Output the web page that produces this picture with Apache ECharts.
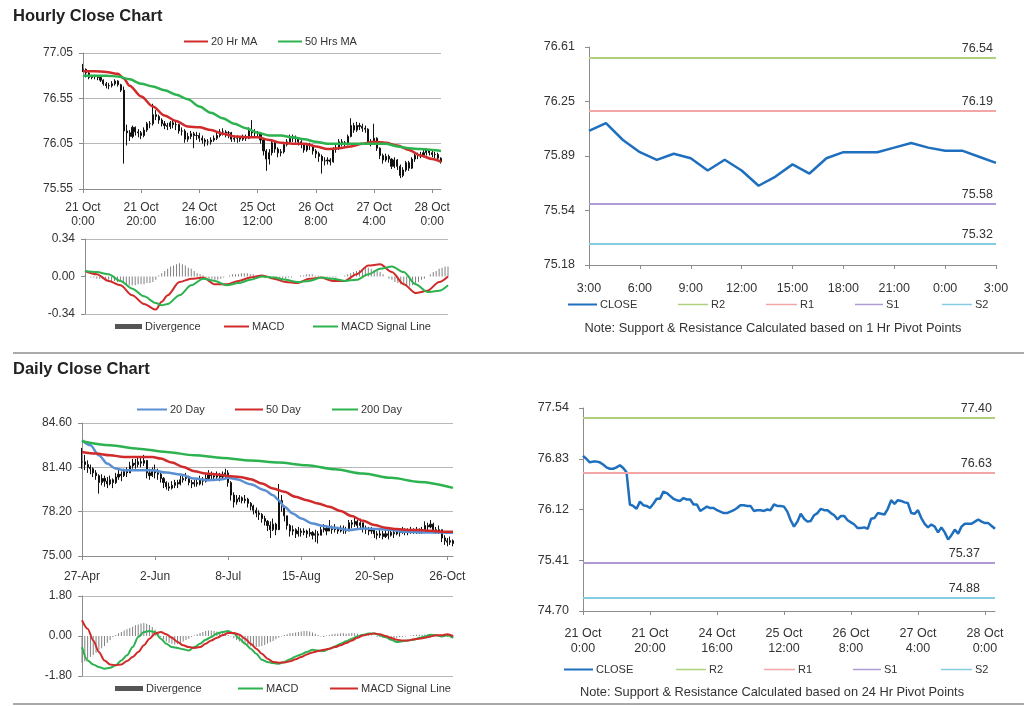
<!DOCTYPE html>
<html><head><meta charset="utf-8">
<script src="https://cdn.jsdelivr.net/npm/echarts@6/dist/echarts.min.js"></script>
<style>html,body{margin:0;padding:0;background:#fff}#c{width:1024px;height:706px}</style>
</head><body><div id="c"></div>
<script>
// ---------------- DATA ----------------
const hourTickLabels = ['21 Oct\n0:00','21 Oct\n20:00','24 Oct\n16:00','25 Oct\n12:00','26 Oct\n8:00','27 Oct\n4:00','28 Oct\n0:00'];
const hourlyClose = [76.87,76.83,76.78,76.79,76.79,76.78,76.75,76.71,76.69,76.69,
 76.71,76.74,76.70,76.64,76.19,76.17,76.13,76.23,76.18,76.17,
 76.14,76.20,76.27,76.27,76.37,76.35,76.31,76.27,76.25,76.24,
 76.28,76.26,76.26,76.19,76.19,76.10,76.13,76.16,76.14,76.14,
 76.11,76.09,76.07,76.07,76.09,76.11,76.14,76.18,76.18,76.17,
 76.17,76.10,76.11,76.11,76.10,76.12,76.11,76.19,76.17,76.17,
 76.16,76.09,75.97,75.88,75.95,76.06,75.99,75.95,75.96,76.04,
 76.07,76.13,76.11,76.11,76.07,76.04,75.98,76.03,76.03,75.97,
 75.94,75.91,75.86,75.86,75.87,75.85,75.99,76.00,76.07,76.06,
 76.05,76.13,76.25,76.20,76.25,76.24,76.22,76.21,76.07,76.06,
 76.11,76.00,75.92,75.87,75.91,75.88,75.80,75.87,75.80,75.70,
 75.76,75.84,75.78,75.88,75.92,75.92,75.92,75.95,75.98,75.95,
 75.93,75.93,75.89,75.85];
const hourlyHigh = [76.93,76.88,76.84,76.81,76.81,76.80,76.79,76.76,76.73,76.72,
 76.74,76.76,76.75,76.71,76.68,76.26,76.20,76.25,76.24,76.21,
 76.19,76.23,76.29,76.30,76.49,76.42,76.37,76.33,76.30,76.28,
 76.30,76.31,76.29,76.27,76.23,76.21,76.17,76.19,76.18,76.18,
 76.17,76.14,76.11,76.10,76.12,76.14,76.17,76.21,76.22,76.20,
 76.19,76.18,76.14,76.14,76.13,76.15,76.15,76.23,76.31,76.21,
 76.19,76.17,76.10,75.99,75.99,76.09,76.07,76.01,75.99,76.07,
 76.10,76.15,76.15,76.14,76.12,76.09,76.05,76.06,76.06,76.04,
 75.99,75.96,75.93,75.90,75.90,75.89,76.01,76.04,76.10,76.10,
 76.08,76.15,76.33,76.28,76.29,76.28,76.27,76.25,76.22,76.10,
 76.27,76.12,76.01,75.94,75.94,75.93,75.89,75.90,75.88,75.82,
 75.79,75.86,75.86,75.90,75.94,75.95,75.96,75.98,76.00,75.99,
 75.97,75.96,75.95,75.90];
const hourlyLow = [76.84,76.78,76.76,76.76,76.76,76.75,76.73,76.69,76.66,76.65,
 76.67,76.69,76.68,76.62,75.83,76.03,76.08,76.11,76.14,76.12,
 76.10,76.12,76.18,76.22,76.25,76.31,76.27,76.24,76.21,76.20,
 76.21,76.22,76.20,76.16,76.14,76.06,76.07,76.10,76.00,76.09,
 76.07,76.05,76.02,76.03,76.04,76.07,76.09,76.12,76.14,76.12,
 76.11,76.07,76.07,76.06,76.07,76.08,76.08,76.10,76.13,76.13,
 76.12,76.05,75.92,75.75,75.82,75.92,75.95,75.90,75.91,75.94,
 76.02,76.05,76.07,76.06,76.03,76.00,75.95,75.96,75.98,75.93,
 75.89,75.85,75.72,75.81,75.82,75.81,75.84,75.95,75.98,76.02,
 76.01,76.03,76.12,76.17,76.18,76.20,76.18,76.17,76.04,76.02,
 76.04,75.97,75.88,75.83,75.85,75.84,75.77,75.78,75.76,75.67,
 75.68,75.74,75.75,75.77,75.85,75.88,75.89,75.90,75.92,75.92,
 75.90,75.89,75.87,75.83];
// [hour index, value]
const hourlyMa20 = [[0,76.85],[4,76.85],[8,76.84],[12,76.82],[14,76.77],[16,76.69],[20,76.57],[24,76.46],[28,76.36],[32,76.30],[36,76.24],[40,76.23],[44,76.20],[48,76.16],[52,76.13],[56,76.12],[60,76.12],[64,76.09],[68,76.06],[72,76.05],[76,76.05],[80,76.02],[84,75.99],[88,76.00],[92,76.02],[96,76.05],[100,76.07],[104,76.06],[108,76.03],[112,75.98],[116,75.92],[120,75.88],[123,75.85]];
const hourlyMa50 = [[0,76.80],[4,76.80],[8,76.80],[12,76.79],[16,76.76],[20,76.71],[24,76.68],[28,76.64],[32,76.59],[36,76.54],[40,76.46],[44,76.39],[48,76.33],[52,76.27],[56,76.22],[60,76.17],[64,76.14],[68,76.14],[72,76.12],[76,76.10],[80,76.07],[84,76.05],[88,76.05],[92,76.05],[96,76.05],[100,76.05],[104,76.05],[108,76.02],[112,76.00],[116,75.99],[120,75.98],[123,75.97]];
const hourlyMacd = [[0,0.05],[4,0.02],[8,-0.04],[12,-0.08],[16,-0.17],[20,-0.25],[24,-0.30],[26,-0.23],[28,-0.17],[32,-0.05],[36,-0.02],[40,-0.01],[44,-0.07],[48,-0.07],[52,-0.04],[56,-0.01],[60,0.01],[64,-0.02],[68,-0.05],[72,-0.06],[76,-0.02],[80,-0.01],[84,-0.04],[88,-0.04],[92,0.02],[96,0.10],[100,0.11],[104,0.04],[108,-0.07],[112,-0.15],[116,-0.13],[120,-0.05],[123,0.00]];
const hourlySignal = [[0,0.05],[4,0.04],[8,0.02],[12,-0.04],[16,-0.11],[20,-0.18],[24,-0.24],[26,-0.26],[28,-0.25],[32,-0.17],[36,-0.08],[40,-0.02],[44,-0.04],[48,-0.08],[52,-0.06],[56,-0.03],[60,0.00],[64,-0.01],[68,-0.03],[72,-0.05],[76,-0.04],[80,-0.01],[84,-0.02],[88,-0.04],[92,-0.03],[96,0.02],[100,0.07],[104,0.09],[108,0.04],[112,-0.07],[116,-0.14],[120,-0.13],[123,-0.08]];
const hourlyDivergence = [0.01,0.00,-0.01,-0.01,-0.02,-0.02,-0.02,-0.03,-0.03,-0.04,
 -0.04,-0.05,-0.05,-0.05,-0.07,-0.08,-0.08,-0.08,-0.07,-0.07,
 -0.07,-0.06,-0.06,-0.05,-0.03,0.01,0.03,0.05,0.07,0.09,
 0.10,0.11,0.12,0.11,0.10,0.08,0.07,0.05,0.03,0.02,
 0.01,-0.01,-0.02,-0.02,-0.03,-0.03,-0.02,-0.01,0.00,0.01,
 0.02,0.02,0.02,0.03,0.03,0.03,0.02,0.02,0.01,0.01,
 0.01,-0.01,-0.01,-0.02,-0.02,-0.02,-0.02,-0.02,-0.02,-0.01,
 -0.01,0.00,0.00,0.01,0.01,0.02,0.02,0.02,0.01,0.01,
 0.00,-0.01,-0.01,-0.01,-0.01,-0.01,0.00,0.00,0.01,0.02,
 0.03,0.04,0.05,0.06,0.07,0.08,0.08,0.07,0.06,0.05,
 0.04,0.02,0.00,-0.02,-0.03,-0.05,-0.06,-0.07,-0.08,-0.09,
 -0.09,-0.08,-0.07,-0.05,-0.03,-0.02,0.00,0.02,0.04,0.05,
 0.07,0.08,0.09,0.09];

const pivotHourTickLabels = ['3:00','6:00','9:00','12:00','15:00','18:00','21:00','0:00','3:00'];
const pivotStartIndex = 99; // 27 Oct 3:00 in the hourly series
const levelNames = ['R2','R1','S1','S2'];
const levels1h = [76.54, 76.19, 75.58, 75.32];
const levels24h = [77.40, 76.63, 75.37, 74.88];
const yTicks1h = ['75.18','75.54','75.89','76.25','76.61'];
const yTicks24h = ['74.70','75.41','76.12','76.83','77.54'];

const dayTickLabels = ['27-Apr','2-Jun','8-Jul','15-Aug','20-Sep','26-Oct'];
const dailyClose = [81.8,81.6,81.4,81.3,81.0,80.8,80.3,80.6,80.4,80.2,
 80.5,80.3,80.7,80.9,80.8,81.1,81.0,81.5,81.7,81.6,
 81.8,81.7,81.9,81.0,80.8,81.1,81.0,80.9,80.6,80.3,
 80.0,79.9,80.1,80.3,80.2,80.5,80.6,80.7,80.3,80.2,
 80.3,80.2,80.5,80.4,80.6,80.9,80.8,80.7,80.8,80.7,
 80.9,81.0,80.3,79.4,78.9,79.1,79.2,79.0,79.1,78.8,
 78.6,78.3,78.1,78.0,77.7,77.5,77.2,76.9,77.3,76.9,
 79.0,78.6,77.9,77.2,76.8,76.9,76.6,76.8,76.7,76.8,
 76.6,76.7,76.5,76.6,76.5,76.9,77.0,76.8,77.1,76.9,
 77.0,76.8,77.0,76.9,76.8,77.4,77.3,77.5,77.2,77.4,
 77.0,76.9,76.8,76.9,76.6,76.5,76.6,76.4,76.6,76.5,
 76.7,76.6,76.8,76.7,76.9,76.8,76.7,76.9,76.8,76.9,
 76.8,76.9,77.2,77.1,77.3,76.9,76.8,76.9,76.3,76.1,
 76.0,76.1,75.9];
const dailyHigh = [82.8,82.3,81.9,81.6,81.4,81.2,80.9,80.9,80.8,80.7,
 80.8,80.6,81.0,81.3,81.1,81.3,81.4,81.8,82.0,82.0,
 82.2,82.1,82.3,81.9,81.3,81.4,81.6,81.3,81.1,80.7,
 80.4,80.3,80.4,80.5,80.5,80.8,80.9,81.0,80.8,80.5,
 80.5,80.5,80.8,80.7,80.9,81.2,81.1,81.0,81.1,81.0,
 81.1,81.3,81.2,80.4,79.6,79.4,79.4,79.3,79.4,79.2,
 78.9,78.7,78.5,78.3,78.1,77.9,77.6,77.5,77.7,77.4,
 80.2,79.4,78.6,77.9,77.3,77.2,77.0,77.1,77.0,77.0,
 76.9,77.0,76.8,76.9,76.8,77.1,77.3,77.1,77.6,77.2,
 77.3,77.1,77.2,77.2,77.1,77.6,77.6,77.8,77.6,77.7,
 77.4,77.2,77.1,77.1,76.9,76.8,76.9,76.8,76.9,76.8,
 76.9,76.9,77.0,77.0,77.1,77.0,77.0,77.1,77.0,77.1,
 77.0,77.1,77.5,77.4,77.6,77.4,77.1,77.2,76.9,76.5,
 76.3,76.4,76.2];
const dailyLow = [81.3,81.2,81.0,80.9,80.7,80.5,79.5,80.1,80.0,79.9,
 80.1,79.9,80.2,80.5,80.4,80.7,80.7,81.0,81.3,81.3,
 81.4,81.4,81.5,80.6,80.5,80.7,80.6,80.5,80.3,79.9,
 79.8,79.7,79.8,79.9,79.9,80.1,80.3,80.4,80.1,79.9,
 80.0,80.0,80.1,80.1,80.3,80.6,80.5,80.4,80.5,80.4,
 80.5,80.6,80.0,79.0,78.5,78.7,78.9,78.8,78.8,78.5,
 78.3,78.0,77.8,77.6,77.4,77.2,76.8,76.3,76.8,76.5,
 77.0,78.2,77.5,76.9,76.4,76.5,76.3,76.4,76.4,76.5,
 76.3,76.4,76.2,76.0,75.9,76.5,76.7,76.5,76.8,76.6,
 76.7,76.6,76.7,76.6,76.6,76.9,77.0,77.1,76.9,77.0,
 76.7,76.6,76.5,76.6,76.3,76.2,76.3,76.2,76.3,76.2,
 76.4,76.3,76.5,76.4,76.6,76.5,76.5,76.6,76.6,76.6,
 76.6,76.6,76.9,76.8,77.0,76.7,76.6,76.6,76.0,75.8,
 75.7,75.8,75.7];
// [day index, value]
const dailyMa20 = [[0,83.35],[3,82.99],[6,82.27],[9,81.67],[12,81.31],[15,81.19],[20,81.19],[25,81.19],[30,81.02],[35,80.88],[40,80.59],[45,80.47],[50,80.54],[52,80.64],[55,80.54],[60,80.18],[65,79.75],[68,79.39],[70,79.03],[72,78.55],[75,78.07],[78,77.71],[82,77.35],[86,77.16],[90,77.04],[95,76.87],[100,76.99],[105,76.94],[110,76.87],[115,76.75],[120,76.70],[125,76.70],[130,76.68],[132,76.68]];
const dailyMa50 = [[0,82.51],[5,82.39],[10,82.27],[15,82.15],[20,82.15],[25,82.15],[28,82.03],[32,81.74],[36,81.43],[40,81.12],[44,80.95],[48,80.88],[52,80.78],[56,80.71],[60,80.54],[64,80.23],[68,79.87],[72,79.63],[76,79.27],[80,79.03],[84,78.79],[88,78.55],[92,78.24],[96,77.88],[100,77.54],[104,77.23],[108,77.04],[112,76.94],[116,76.87],[120,76.87],[124,76.82],[128,76.75],[132,76.75]];
const dailyMa200 = [[0,83.28],[10,82.99],[20,82.75],[30,82.51],[40,82.27],[50,82.08],[60,81.89],[70,81.74],[80,81.55],[90,81.26],[100,80.95],[110,80.64],[120,80.35],[132,79.92]];
const dailyMacd = [[0,-0.50],[2,-1.10],[4,-1.28],[6,-1.40],[8,-1.47],[10,-1.43],[12,-1.32],[14,-1.10],[16,-0.87],[18,-0.50],[20,-0.05],[22,0.18],[24,0.23],[26,0.18],[28,-0.12],[30,-0.35],[32,-0.50],[34,-0.54],[36,-0.60],[38,-0.65],[40,-0.50],[42,-0.35],[44,-0.17],[46,-0.05],[48,0.11],[50,0.18],[52,0.23],[54,0.11],[56,-0.12],[58,-0.35],[60,-0.57],[62,-0.80],[64,-1.07],[66,-1.17],[68,-1.22],[70,-1.25],[72,-1.17],[74,-1.05],[76,-0.92],[78,-0.83],[80,-0.72],[82,-0.62],[84,-0.65],[86,-0.68],[88,-0.57],[90,-0.47],[92,-0.35],[94,-0.24],[96,-0.12],[98,-0.02],[100,0.06],[102,0.11],[104,0.11],[106,0.03],[108,-0.05],[110,-0.17],[112,-0.27],[114,-0.24],[116,-0.20],[118,-0.17],[120,-0.08],[122,-0.02],[124,0.06],[126,0.03],[128,-0.02],[130,0.03],[132,-0.08]];
const dailySignal = [[0,0.71],[2,0.33],[4,-0.20],[6,-0.72],[8,-1.10],[10,-1.28],[12,-1.32],[14,-1.28],[16,-1.13],[18,-0.95],[20,-0.72],[22,-0.42],[24,-0.12],[26,0.11],[28,0.18],[30,0.08],[32,-0.08],[34,-0.27],[36,-0.42],[38,-0.50],[40,-0.54],[42,-0.50],[44,-0.35],[46,-0.20],[48,-0.08],[50,0.03],[52,0.14],[54,0.14],[56,0.06],[58,-0.12],[60,-0.35],[62,-0.57],[64,-0.80],[66,-1.02],[68,-1.17],[70,-1.20],[72,-1.19],[74,-1.14],[76,-1.05],[78,-0.95],[80,-0.83],[82,-0.74],[84,-0.68],[86,-0.62],[88,-0.57],[90,-0.50],[92,-0.42],[94,-0.32],[96,-0.20],[98,-0.08],[100,0.02],[102,0.08],[104,0.11],[106,0.08],[108,0.00],[110,-0.09],[112,-0.17],[114,-0.20],[116,-0.20],[118,-0.15],[120,-0.12],[122,-0.08],[124,-0.02],[126,0.03],[128,0.03],[130,0.08],[132,0.00]];
const dailyDivergence = [-1.20,-1.15,-1.05,-0.95,-0.85,-0.75,-0.65,-0.55,-0.45,-0.30,
 -0.18,-0.05,0.05,0.12,0.18,0.25,0.30,0.36,0.42,0.48,
 0.52,0.56,0.58,0.55,0.50,0.40,0.28,0.12,-0.05,-0.15,
 -0.25,-0.30,-0.35,-0.38,-0.36,-0.32,-0.25,-0.18,-0.12,-0.05,
 0.02,0.08,0.14,0.18,0.22,0.25,0.25,0.22,0.20,0.16,
 0.12,0.08,0.05,-0.02,-0.10,-0.18,-0.25,-0.32,-0.38,-0.42,
 -0.46,-0.48,-0.50,-0.48,-0.45,-0.40,-0.34,-0.28,-0.22,-0.15,
 -0.08,-0.02,0.04,0.08,0.12,0.14,0.16,0.18,0.20,0.22,
 0.22,0.20,0.16,0.10,0.04,-0.02,-0.04,0.02,0.05,0.08,
 0.10,0.10,0.12,0.12,0.10,0.12,0.14,0.12,0.10,0.08,
 0.06,0.04,0.03,0.02,0.00,-0.04,-0.06,-0.08,-0.10,-0.12,
 -0.12,-0.10,-0.08,-0.06,-0.04,-0.02,0.00,0.02,0.04,0.06,
 0.06,0.06,0.07,0.08,0.08,0.06,0.04,0.02,0.00,-0.02,
 -0.04,-0.06,-0.08];

// ---------------- STYLE ----------------
const FONT = 'Liberation Sans, Arial, sans-serif';
const TXT = '#333';
const AXIS = '#8c8c8c';
const GRIDC = '#b8b8b8';
const RED = '#d02a2a', GREEN = '#2cb24f', BLUE20 = '#5b8fd3', CLOSEBLUE = '#1f6fbf';
const LEVEL_COLORS = ['#afd07f', '#f2a6a6', '#b09ad6', '#87cde2'];
const LABEL_SHIFT_1H = [0, 0, 0, 0];
const LABEL_SHIFT_24H = [0, 0, -12, -12];

const hourCats = hourlyClose.map((_, i) => String(i));
const pivotClose = hourlyClose.slice(pivotStartIndex);
const pivotCats = pivotClose.map((_, i) => String(i));
const dayCats = dailyClose.map((_, i) => String(i));

function xCat(gridIndex, data, every, labels, fs, margin, lh) {
  return {
    type: 'category', gridIndex, data, boundaryGap: false,
    axisLine: { show: true, lineStyle: { color: AXIS, width: 1 } },
    axisTick: { show: true, interval: every - 1, length: 4, lineStyle: { color: AXIS } },
    axisLabel: { show: true, interval: every - 1, color: TXT, fontSize: fs, fontFamily: FONT, margin, lineHeight: lh,
      formatter: (v, i) => labels[Math.round(i / every)] },
    splitLine: { show: false }
  };
}
function yVal(gridIndex, min, max, interval, fmt, fs, margin, split, splitColors) {
  return {
    type: 'value', gridIndex, min, max, interval, scale: false,
    axisLine: { show: true, lineStyle: { color: AXIS, width: 1 } },
    axisTick: { show: true, length: 4, lineStyle: { color: AXIS } },
    axisLabel: { color: TXT, fontSize: fs, fontFamily: FONT, margin, formatter: fmt },
    splitLine: { show: split, lineStyle: { color: splitColors || GRIDC, width: 1 } }
  };
}
const fix2 = v => v.toFixed(2);

const grids = [
  { left: 83, top: 53, width: 358, height: 136 },
  { left: 85, top: 239, width: 363, height: 75 },
  { left: 589, top: 47, width: 407, height: 218 },
  { left: 82, top: 423, width: 371, height: 133 },
  { left: 82, top: 596, width: 371, height: 80 },
  { left: 583, top: 408, width: 412, height: 203 }
].map(g => Object.assign({ containLabel: false, outerBoundsMode: 'none' }, g));

const hiddenX = (gi, data) => ({ type: 'category', gridIndex: gi, data, boundaryGap: false,
  axisLine: { show: false }, axisTick: { show: false }, axisLabel: { show: false }, splitLine: { show: false } });

const xAxis = [
  xCat(0, hourCats, 20, hourTickLabels, 12, 12, 14),
  hiddenX(1, hourCats),
  xCat(2, pivotCats, 3, pivotHourTickLabels, 12.5, 16, 15),
  xCat(3, dayCats, 26, dayTickLabels, 12, 14, 14),
  hiddenX(4, dayCats),
  xCat(5, hourCats, 20, hourTickLabels, 12.5, 15, 15)
];
const yAxis = [
  yVal(0, 75.55, 77.05, 0.5, fix2, 12, 10, true),
  yVal(1, -0.34, 0.34, 0.34, fix2, 12, 10, true, [GRIDC, 'rgba(0,0,0,0)']),
  yVal(2, 75.18, 76.61, (76.61 - 75.18) / 4, (v, i) => yTicks1h[i], 12.5, 14, false),
  yVal(3, 75.00, 84.60, 3.2, fix2, 12, 10, true),
  yVal(4, -1.80, 1.80, 1.80, fix2, 12, 10, true, [GRIDC, 'rgba(0,0,0,0)']),
  yVal(5, 74.70, 77.54, 0.71, (v, i) => yTicks24h[i], 12.5, 14, false)
];

const line = (name, xi, data, color, width, smooth) => ({
  name, type: 'line', xAxisIndex: xi, yAxisIndex: xi, data, symbol: 'none', showSymbol: false,
  smooth: smooth || 0, smoothMonotone: 'x', color, lineStyle: { color, width }, silent: true, z: 3
});
const candles = (name, xi, close, low, high) => ({
  name, type: 'candlestick', xAxisIndex: xi, yAxisIndex: xi, barWidth: 1.6, silent: true,
  data: close.map((c, i) => [i ? close[i - 1] : c, c, low[i], high[i]]),
  itemStyle: { color: '#111', color0: '#111', borderColor: '#111', borderColor0: '#111', borderWidth: 1 }, z: 2
});
const bars = (name, xi, data) => ({
  name, type: 'bar', xAxisIndex: xi, yAxisIndex: xi, data, barWidth: 1, color: '#808080', silent: true, z: 2
});
const levelSeries = (suffix, xi, values, shifts) => levelNames.map((n, k) => ({
  name: n + suffix, type: 'line', xAxisIndex: xi, yAxisIndex: xi, data: [], symbol: 'none',
  color: LEVEL_COLORS[k], lineStyle: { color: LEVEL_COLORS[k], width: 2 }, silent: true,
  markLine: { silent: true, symbol: ['none', 'none'], animation: false,
    lineStyle: { color: LEVEL_COLORS[k], width: 2, type: 'solid' },
    label: { show: true, position: 'insideEndTop', distance: 3, offset: [shifts[k], 0], color: TXT, fontSize: 12.5, fontFamily: FONT,
      formatter: p => p.value.toFixed(2) },
    data: [{ yAxis: values[k] }] }
}));

const series = [
  candles('bars|h', 0, hourlyClose, hourlyLow, hourlyHigh),
  line('20 Hr MA|h', 0, hourlyMa20, RED, 2.5, 0.3),
  line('50 Hrs MA|h', 0, hourlyMa50, GREEN, 2.5, 0.3),
  bars('Divergence|h', 1, hourlyDivergence),
  line('MACD|h', 1, hourlyMacd, RED, 2, 0.3),
  line('MACD Signal Line|h', 1, hourlySignal, GREEN, 2, 0.3),
  line('CLOSE|p1', 2, pivotClose, CLOSEBLUE, 2.5, 0),
  ...levelSeries('|p1', 2, levels1h, LABEL_SHIFT_1H),
  candles('bars|d', 3, dailyClose, dailyLow, dailyHigh),
  line('20 Day|d', 3, dailyMa20, BLUE20, 2.5, 0.3),
  line('50 Day|d', 3, dailyMa50, RED, 2.5, 0.3),
  line('200 Day|d', 3, dailyMa200, GREEN, 2.5, 0.3),
  bars('Divergence|d', 4, dailyDivergence),
  line('MACD|d', 4, dailyMacd, GREEN, 2, 0.3),
  line('MACD Signal Line|d', 4, dailySignal, RED, 2, 0.3),
  line('CLOSE|p24', 5, hourlyClose, CLOSEBLUE, 2.5, 0),
  ...levelSeries('|p24', 5, levels24h, LABEL_SHIFT_24H)
];

// legend placements: [series name, left, centerY, icon width, icon height]
const legendSpec = [
  ['20 Hr MA|h', 184, 43, 24, 2], ['50 Hrs MA|h', 278, 43, 24, 2],
  ['Divergence|h', 115, 328, 27, 5], ['MACD|h', 224, 328, 25, 2], ['MACD Signal Line|h', 313, 328, 25, 2],
  ['CLOSE|p1', 568, 306, 29, 2], ['R2|p1', 678, 306, 30, 1.5], ['R1|p1', 766, 306, 31, 1.5], ['S1|p1', 855, 306, 28, 1.5], ['S2|p1', 942, 306, 30, 1.5],
  ['20 Day|d', 137, 411, 30, 2], ['50 Day|d', 235, 411, 28, 2], ['200 Day|d', 332, 411, 26, 2],
  ['Divergence|d', 115, 690, 28, 5], ['MACD|d', 238, 690, 25, 2], ['MACD Signal Line|d', 330, 690, 28, 2],
  ['CLOSE|p24', 564, 671, 29, 2], ['R2|p24', 676, 671, 30, 1.5], ['R1|p24', 764, 671, 31, 1.5], ['S1|p24', 853, 671, 28, 1.5], ['S2|p24', 941, 671, 31, 1.5]
];
const legend = legendSpec.map(([name, left, cy, w, h]) => {
  const isBar = name.indexOf('Divergence') === 0;
  return {
    data: [isBar ? { name, icon: 'rect', itemStyle: { color: '#555' } } : { name, icon: 'rect' }],
    left, top: cy - 7, itemWidth: w, itemHeight: h, itemGap: 0, padding: 0,
    selectedMode: false, formatter: n => n.split('|')[0],
    textStyle: { color: TXT, fontSize: 11, fontFamily: FONT, padding: [0, 0, 0, -2] }
  };
});

const graphic = [
  { type: 'text', x: 13, y: 8, style: { text: 'Hourly Close Chart', font: 'bold 16.5px ' + FONT, fill: '#222' } },
  { type: 'text', x: 13, y: 361, style: { text: 'Daily Close Chart', font: 'bold 16.5px ' + FONT, fill: '#222' } },
  { type: 'text', x: 773, y: 328, style: { text: 'Note: Support & Resistance Calculated based on 1 Hr Pivot Points', font: '12.8px ' + FONT, fill: TXT, align: 'center', verticalAlign: 'middle' } },
  { type: 'text', x: 772, y: 692, style: { text: 'Note: Support & Resistance Calculated based on 24 Hr Pivot Points', font: '12.8px ' + FONT, fill: TXT, align: 'center', verticalAlign: 'middle' } },
  { type: 'line', shape: { x1: 13, y1: 353, x2: 1024, y2: 353 }, style: { stroke: '#aaaaaa', lineWidth: 2 } },
  { type: 'line', shape: { x1: 13, y1: 704, x2: 1024, y2: 704 }, style: { stroke: '#aaaaaa', lineWidth: 2 } }
];

const chart = echarts.init(document.getElementById('c'), null, { renderer: 'canvas' });
chart.setOption({ animation: false, backgroundColor: '#fff', grid: grids, xAxis, yAxis, series, legend, graphic });
</script></body></html>
